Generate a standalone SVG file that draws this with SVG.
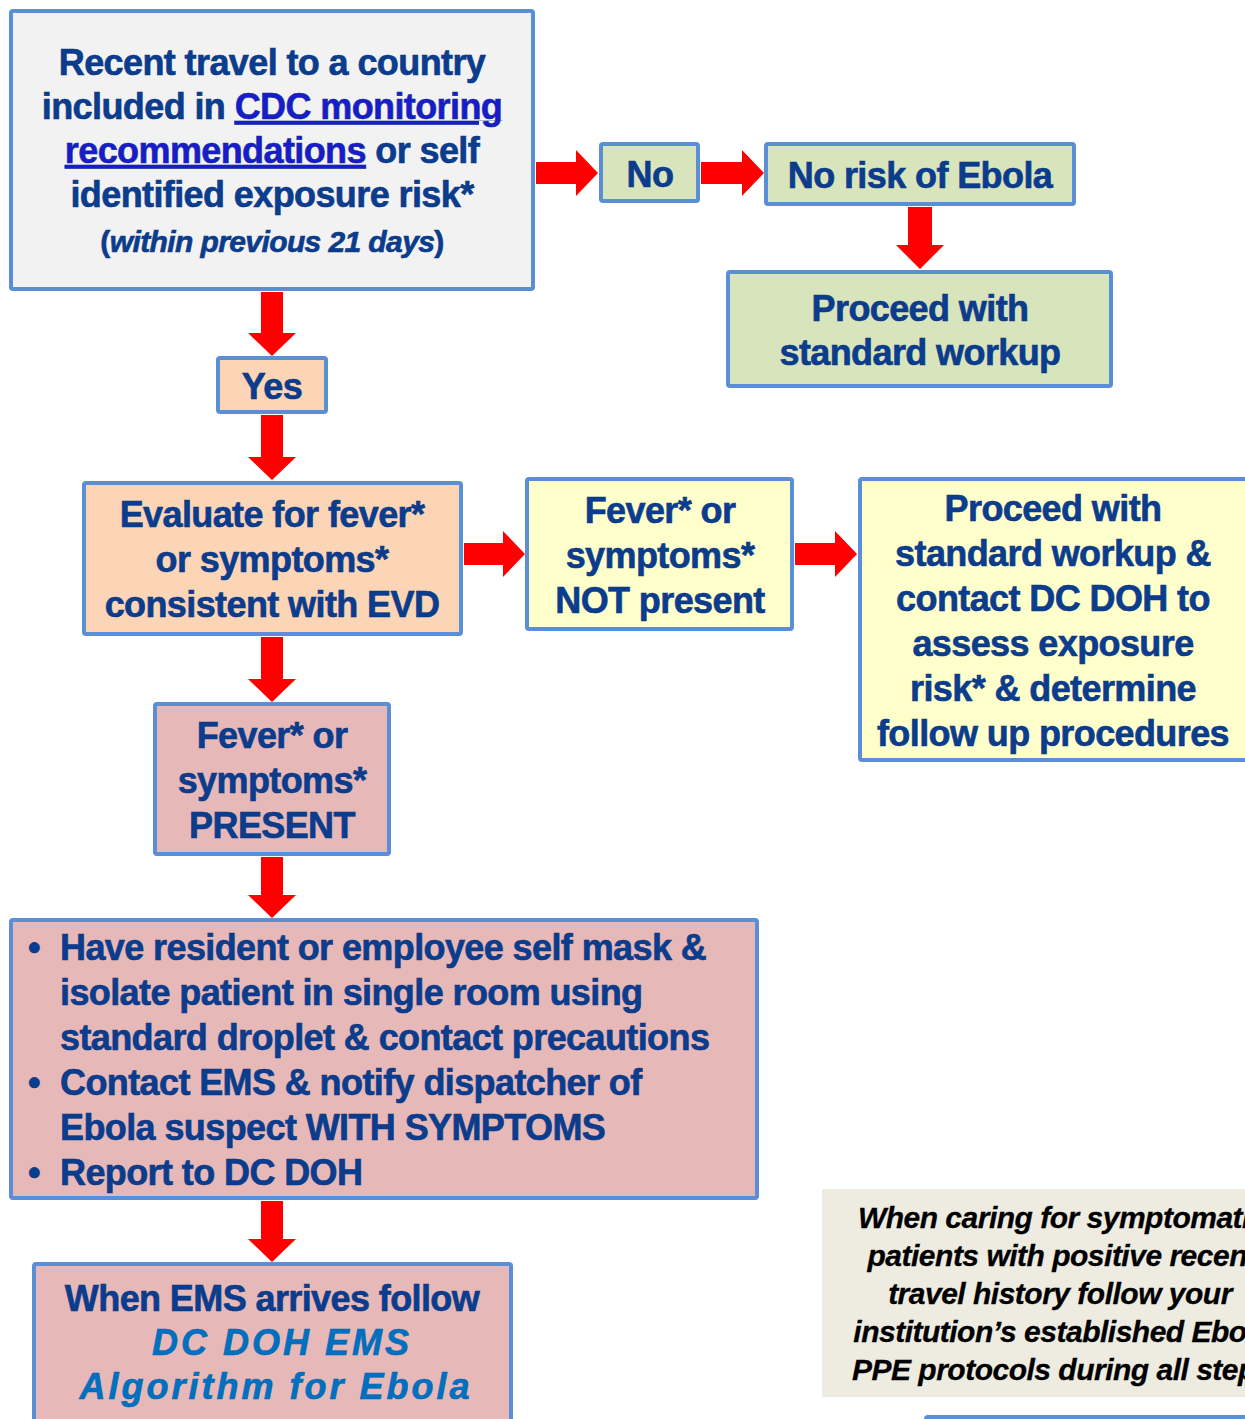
<svg xmlns="http://www.w3.org/2000/svg" width="1245" height="1419" viewBox="0 0 1245 1419">
<style>
.box{stroke:#5a8fd6;stroke-width:4}
.t{font-family:"Liberation Sans",Arial,sans-serif;font-weight:bold;font-size:36px;fill:#0b3d8f;stroke:#0a3480;stroke-width:0.6;letter-spacing:-0.6px}
.c{text-anchor:middle}
.lnk{fill:#1a1ad0;text-decoration:underline}
.arrow{fill:#ff0000}
.note{font-family:"Liberation Sans",Arial,sans-serif;font-weight:bold;font-style:italic;font-size:30px;fill:#000;stroke:#000;stroke-width:0.3;text-anchor:middle;letter-spacing:-0.5px}
.ems{font-style:italic;fill:#0070c0;stroke:#0066b3;letter-spacing:3px}
</style>
<rect width="1245" height="1419" fill="#ffffff"/>
<g id="connectors">
<polygon class="arrow" points="536,162 576,162 576,150 598,173 576,196 576,184 536,184"/>
<polygon class="arrow" points="701,162 742,162 742,150 764,173 742,196 742,184 701,184"/>
<polygon class="arrow" points="908,207 932,207 932,245 944,245 920,269 896,245 908,245"/>
<polygon class="arrow" points="261,292 283,292 283,333 296,333 272,356 248,333 261,333"/>
<polygon class="arrow" points="261,415 283,415 283,457 296,457 272,480 248,457 261,457"/>
<polygon class="arrow" points="464,543 503,543 503,531 525,554 503,577 503,565 464,565"/>
<polygon class="arrow" points="795,543 835,543 835,531 857,554 835,577 835,565 795,565"/>
<polygon class="arrow" points="261,637 283,637 283,679 296,679 272,702 248,679 261,679"/>
<polygon class="arrow" points="261,857 283,857 283,895 296,895 272,918 248,895 261,895"/>
<polygon class="arrow" points="261,1201 283,1201 283,1239 296,1239 272,1262 248,1239 261,1239"/>
</g>
<g id="travel">
<rect class="box" x="11" y="11" width="522" height="278" rx="2" fill="#f2f2f2"/>
<text class="t c" x="272" y="75">Recent travel to a country</text>
<text class="t c" x="272" y="119">included in <tspan class="lnk">CDC monitoring</tspan></text>
<text class="t c" x="272" y="163"><tspan class="lnk">recommendations</tspan> or self</text>
<text class="t c" x="272" y="207">identified exposure risk*</text>
<text class="t c" x="272" y="252" style="font-size:30px">(<tspan font-style="italic">within previous 21 days</tspan>)</text>
</g>
<g id="no">
<rect class="box" x="601" y="144" width="97" height="57" rx="2" fill="#d8e4bc"/>
<text class="t c" x="650" y="187">No</text>
</g>
<g id="norisk">
<rect class="box" x="766" y="144" width="308" height="60" rx="2" fill="#d8e4bc"/>
<text class="t c" x="920" y="188">No risk of Ebola</text>
</g>
<g id="proceed1">
<rect class="box" x="728" y="272" width="383" height="114" rx="2" fill="#d8e4bc"/>
<text class="t c" x="920" y="321">Proceed with</text>
<text class="t c" x="920" y="365">standard workup</text>
</g>
<g id="yes">
<rect class="box" x="218" y="358" width="108" height="54" rx="2" fill="#fbd5b5"/>
<text class="t c" x="272" y="399">Yes</text>
</g>
<g id="evaluate">
<rect class="box" x="84" y="483" width="377" height="151" rx="2" fill="#fbd5b5"/>
<text class="t c" x="272" y="527">Evaluate for fever*</text>
<text class="t c" x="272" y="572">or symptoms*</text>
<text class="t c" x="272" y="617">consistent with EVD</text>
</g>
<g id="notpresent">
<rect class="box" x="527" y="479" width="265" height="150" rx="2" fill="#ffffcc"/>
<text class="t c" x="660" y="523">Fever* or</text>
<text class="t c" x="660" y="568">symptoms*</text>
<text class="t c" x="660" y="613">NOT present</text>
</g>
<g id="proceed2">
<rect class="box" x="860" y="479" width="400" height="281" rx="2" fill="#ffffcc"/>
<text class="t c" x="1053" y="521">Proceed with</text>
<text class="t c" x="1053" y="566">standard workup &amp;</text>
<text class="t c" x="1053" y="611">contact DC DOH to</text>
<text class="t c" x="1053" y="656">assess exposure</text>
<text class="t c" x="1053" y="701">risk* &amp; determine</text>
<text class="t c" x="1053" y="746">follow up procedures</text>
</g>
<g id="present">
<rect class="box" x="155" y="704" width="234" height="150" rx="2" fill="#e6b9b8"/>
<text class="t c" x="272" y="748">Fever* or</text>
<text class="t c" x="272" y="793">symptoms*</text>
<text class="t c" x="272" y="838">PRESENT</text>
</g>
<g id="actions">
<rect class="box" x="11" y="920" width="746" height="278" rx="2" fill="#e6b9b8"/>
<text class="t" x="28" y="960">•</text>
<text class="t" x="60" y="960">Have resident or employee self mask &amp;</text>
<text class="t" x="60" y="1005">isolate patient in single room using</text>
<text class="t" x="60" y="1050">standard droplet &amp; contact precautions</text>
<text class="t" x="28" y="1095">•</text>
<text class="t" x="60" y="1095">Contact EMS &amp; notify dispatcher of</text>
<text class="t" x="60" y="1140">Ebola suspect WITH SYMPTOMS</text>
<text class="t" x="28" y="1185">•</text>
<text class="t" x="60" y="1185">Report to DC DOH</text>
</g>
<g id="ems">
<rect class="box" x="34" y="1264" width="477" height="180" rx="2" fill="#e6b9b8"/>
<text class="t c" x="272" y="1311">When EMS arrives follow</text>
<text class="t c ems" x="282" y="1355">DC DOH EMS</text>
<text class="t c ems" x="276" y="1399">Algorithm for Ebola</text>
</g>
<g id="note">
<rect x="822" y="1189" width="480" height="208" fill="#eeece1"/>
<text class="note" x="1062" y="1228">When caring for symptomatic</text>
<text class="note" x="1062" y="1266">patients with positive recent</text>
<text class="note" x="1060" y="1304">travel history follow your</text>
<text class="note" x="1062" y="1342">institution’s established Ebola</text>
<text class="note" x="1062" y="1380">PPE protocols during all steps</text>
</g>
<g id="partial-box">
<rect class="box" x="926" y="1417" width="360" height="40" rx="2" fill="#ffffff"/>
</g>
</svg>
